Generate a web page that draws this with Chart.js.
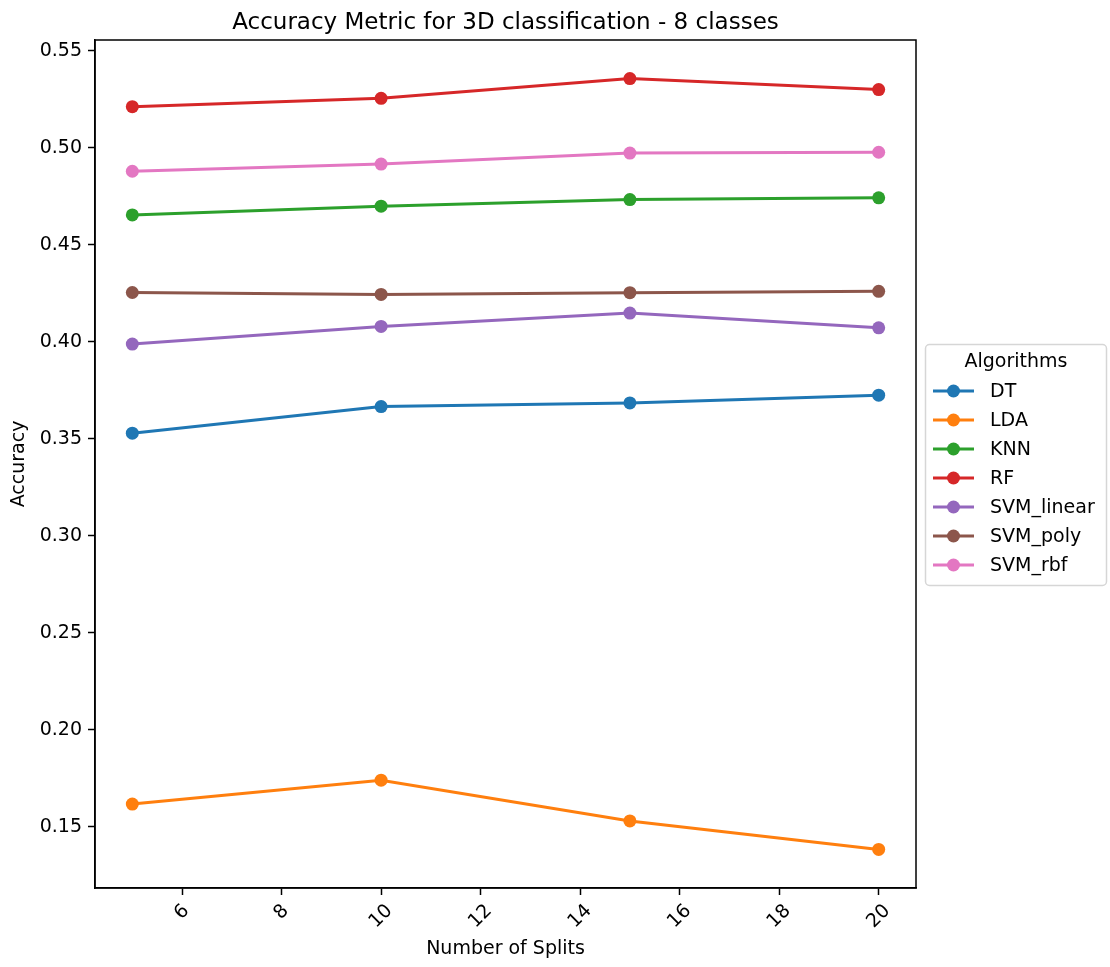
<!DOCTYPE html>
<html>
<head>
<meta charset="utf-8">
<script src="https://cdn.jsdelivr.net/npm/chart.js@4.4.1/dist/chart.umd.min.js"></script>
<style>
  html, body { margin: 0; padding: 0; background: #fff; }
  #wrap { width: 1110px; height: 967px; }
</style>
</head>
<body>
<div id="wrap"><canvas id="accChart" width="1110" height="967"></canvas></div>
<script>
// number of splits on the x axis
var splits = [5, 10, 15, 20];

// accuracy per algorithm
var dtAcc        = [0.3530, 0.3667, 0.3686, 0.3726];
var ldaAcc       = [0.1618, 0.1741, 0.1531, 0.1384];
var knnAcc       = [0.4655, 0.4700, 0.4734, 0.4743];
var rfAcc        = [0.5213, 0.5256, 0.5358, 0.5301];
var svmLinearAcc = [0.3989, 0.4080, 0.4149, 0.4073];
var svmPolyAcc   = [0.4255, 0.4245, 0.4254, 0.4261];
var svmRbfAcc    = [0.4880, 0.4917, 0.4974, 0.4978];

var xTicks = [6, 8, 10, 12, 14, 16, 18, 20];
var yTicks = [0.15, 0.20, 0.25, 0.30, 0.35, 0.40, 0.45, 0.50, 0.55];

var titleText = "Accuracy Metric for 3D classification - 8 classes";
var legendTitle = "Algorithms";

var series = [
  { label: "DT",         values: dtAcc,        color: "#1f77b4" },
  { label: "LDA",        values: ldaAcc,       color: "#ff7f0e" },
  { label: "KNN",        values: knnAcc,       color: "#2ca02c" },
  { label: "RF",         values: rfAcc,        color: "#d62728" },
  { label: "SVM_linear", values: svmLinearAcc, color: "#9467bd" },
  { label: "SVM_poly",   values: svmPolyAcc,   color: "#8c564b" },
  { label: "SVM_rbf",    values: svmRbfAcc,    color: "#e377c2" }
];

var FONT = "'DejaVu Sans', sans-serif";

// 5% padding around the data range, both axes
var allVals = [];
for (var k = 0; k < series.length; k++) allVals = allVals.concat(series[k].values);
var yLo = Math.min.apply(null, allVals), yHi = Math.max.apply(null, allVals);
var yPad = (yHi - yLo) * 0.05;
var xLo = Math.min.apply(null, splits), xHi = Math.max.apply(null, splits);
var xPad = (xHi - xLo) * 0.05;

var datasets = [];
for (var k = 0; k < series.length; k++) {
  var pts = [];
  for (var i = 0; i < splits.length; i++) pts.push({ x: splits[i], y: series[k].values[i] });
  datasets.push({
    label: series[k].label,
    data: pts,
    borderColor: series[k].color,
    backgroundColor: series[k].color,
    pointBackgroundColor: series[k].color,
    pointBorderWidth: 0,
    pointRadius: 6.5,
    borderWidth: 3,
    tension: 0,
    order: series.length - k
  });
}

// frame, title, rotated x labels and the legend box
var extras = {
  id: "extras",
  afterDraw: function(chart) {
    var ctx = chart.ctx, a = chart.chartArea;
    ctx.save();
    ctx.strokeStyle = "#000";
    ctx.lineWidth = 1.5;
    ctx.strokeRect(a.left, a.top, a.right - a.left, a.bottom - a.top);

    ctx.fillStyle = "#000";
    ctx.font = "23px " + FONT;
    ctx.textAlign = "center";
    ctx.textBaseline = "alphabetic";
    ctx.fillText(titleText, (a.left + a.right) / 2, 29);

    // x tick labels, rotated 45 and centred on the tick
    var xs = chart.scales.x;
    ctx.font = "19px " + FONT;
    ctx.textBaseline = "middle";
    for (var i = 0; i < xTicks.length; i++) {
      var txt = String(xTicks[i]);
      var w = ctx.measureText(txt).width;
      var h = 14;
      var bh = (w + h) * Math.SQRT1_2;
      ctx.save();
      ctx.translate(xs.getPixelForValue(xTicks[i]), a.bottom + 15 + bh / 2);
      ctx.rotate(-Math.PI / 4);
      ctx.fillText(txt, 0, 0);
      ctx.restore();
    }

    // legend
    var lx = 925.5, ly = 344.5, lw = 181, lh = 241, r = 4;
    ctx.beginPath();
    ctx.moveTo(lx + r, ly);
    ctx.arcTo(lx + lw, ly, lx + lw, ly + lh, r);
    ctx.arcTo(lx + lw, ly + lh, lx, ly + lh, r);
    ctx.arcTo(lx, ly + lh, lx, ly, r);
    ctx.arcTo(lx, ly, lx + lw, ly, r);
    ctx.closePath();
    ctx.fillStyle = "rgba(255,255,255,0.8)";
    ctx.fill();
    ctx.strokeStyle = "#d6d6d6";
    ctx.lineWidth = 1.5;
    ctx.stroke();

    ctx.fillStyle = "#000";
    ctx.font = "19px " + FONT;
    ctx.textAlign = "center";
    ctx.textBaseline = "middle";
    ctx.fillText(legendTitle, lx + lw / 2, 362);
    ctx.textAlign = "left";
    for (var k = 0; k < chart.data.datasets.length; k++) {
      var ds = chart.data.datasets[k];
      var y = 391 + k * 29;
      ctx.strokeStyle = ds.borderColor;
      ctx.lineWidth = 3;
      ctx.beginPath();
      ctx.moveTo(933, y);
      ctx.lineTo(974, y);
      ctx.stroke();
      ctx.fillStyle = ds.borderColor;
      ctx.beginPath();
      ctx.arc(953.5, y, 6.5, 0, Math.PI * 2);
      ctx.fill();
      ctx.fillStyle = "#000";
      ctx.fillText(ds.label, 990, y + 1);
    }
    ctx.restore();
  }
};

var chart = new Chart(document.getElementById("accChart"), {
  type: "line",
  data: { datasets: datasets },
  options: {
    responsive: false,
    animation: false,
    layout: { padding: { top: 40, right: 194, bottom: 0, left: 0 } },
    plugins: {
      legend: { display: false },
      title: { display: false },
      tooltip: { enabled: false }
    },
    scales: {
      x: {
        type: "linear",
        min: xLo - xPad,
        max: xHi + xPad,
        afterBuildTicks: function(scale) {
          scale.ticks = xTicks.map(function(v) { return { value: v }; });
        },
        afterFit: function(scale) { scale.height = 79; },
        grid: { display: true, drawOnChartArea: false, drawTicks: true, tickLength: 7, tickWidth: 1.5, tickColor: "#000" },
        border: { display: true, color: "#000", width: 1.5 },
        ticks: { autoSkip: false, maxRotation: 0, color: "rgba(0,0,0,0)", font: { family: FONT, size: 19 } },
        title: { display: true, text: "Number of Splits", color: "#000", font: { family: FONT, size: 19 }, padding: { top: 7, bottom: 7 } }
      },
      y: {
        type: "linear",
        min: yLo - yPad,
        max: yHi + yPad,
        afterBuildTicks: function(scale) {
          scale.ticks = yTicks.map(function(v) { return { value: v }; });
        },
        afterFit: function(scale) { scale.width = 95; },
        grid: { display: true, drawOnChartArea: false, drawTicks: true, tickLength: 7, tickWidth: 1.5, tickColor: "#000" },
        border: { display: true, color: "#000", width: 1.5 },
        ticks: {
          autoSkip: false,
          padding: 6,
          color: "#000",
          font: { family: FONT, size: 19 },
          callback: function(v) { return Number(v).toFixed(2); }
        },
        title: { display: true, text: "Accuracy", color: "#000", font: { family: FONT, size: 19 }, padding: { top: 8, bottom: 8 } }
      }
    }
  },
  plugins: [extras]
});
</script>
</body>
</html>
